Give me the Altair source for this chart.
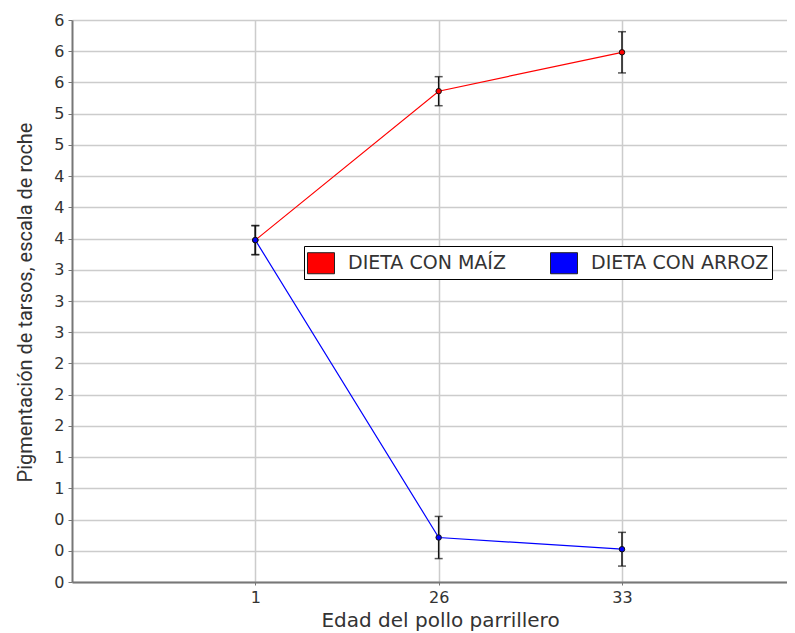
import altair as alt
import pandas as pd

# ---- data ----
days = ["1", "26", "33"]
series = ["DIETA CON MAÍZ", "DIETA CON ARROZ"]
colors = ["#ff0000", "#0000ff"]
maiz_mean = [3.65, 5.24, 5.655]
maiz_err = [0.155, 0.155, 0.22]
arroz_mean = [3.65, 0.475, 0.35]
arroz_err = [0.155, 0.225, 0.18]
y_tick_values = [k / 3 for k in range(19)]
y_tick_labels = ["0", "0", "0", "1", "1", "2", "2", "2", "3", "3", "3",
                 "4", "4", "4", "5", "5", "6", "6", "6"]

rows = []
for name, means, errs in [(series[0], maiz_mean, maiz_err), (series[1], arroz_mean, arroz_err)]:
    for i, (d, m, e) in enumerate(zip(days, means, errs)):
        rows.append({"pos": i, "dia": d, "serie": name, "leyenda": name,
                     "media": m, "lo": m - e, "hi": m + e})
df = pd.DataFrame(rows)

y_label_expr = "[" + ",".join("'%s'" % s for s in y_tick_labels) + "][round(datum.value*3)]"
x_label_expr = "[" + ",".join("'%s'" % s for s in days) + "][round(datum.value)]"

xscale = alt.Scale(domain=[-1.0, 2.9], nice=False, zero=False)
yscale = alt.Scale(domain=[0, 6], nice=False, zero=True)

xaxis = alt.Axis(values=list(range(len(days))), labelExpr=x_label_expr, labelAngle=0,
                 grid=True, gridColor="#cccccc", gridWidth=1.5,
                 domainColor="#777777", domainWidth=2, tickColor="#777777", tickSize=3,
                 labelFont="DejaVu Sans", labelFontSize=16, labelColor="#333333", labelPadding=4,
                 title="Edad del pollo parrillero", titleFont="DejaVu Sans", titleFontSize=20,
                 titleFontWeight="normal", titleColor="#333333", titleX=368, titleY=44,
                 titleAlign="center", titleBaseline="alphabetic")
yaxis = alt.Axis(values=y_tick_values, labelExpr=y_label_expr, grid=True, gridColor="#cccccc",
                 gridWidth=1.5, domainColor="#777777", domainWidth=2, tickColor="#777777",
                 tickSize=4, labelFont="DejaVu Sans", labelFontSize=16, labelColor="#333333",
                 labelPadding=4, title="Pigmentación de tarsos, escala de roche",
                 titleFont="Roboto", titleFontSize=20, titleFontWeight="normal",
                 titleColor="#333333", titleAngle=270, titleX=-47, titleY=282,
                 titleAlign="center", titleBaseline="middle")

base = alt.Chart(df).encode(x=alt.X("pos:Q", scale=xscale, axis=xaxis))

# line colours use a reversed (but equivalent) domain so its hidden legend is not merged
line = base.mark_line(strokeWidth=1.2).encode(
    y=alt.Y("media:Q", scale=yscale, axis=yaxis),
    stroke=alt.Stroke("serie:N", scale=alt.Scale(domain=series[::-1], range=colors[::-1]),
                      legend=None),
)
rules = base.mark_rule(color="#111111", strokeWidth=1.5).encode(
    y=alt.Y("lo:Q", scale=yscale, axis=yaxis), y2="hi:Q")
cap_lo = base.mark_tick(color="#111111", size=8, thickness=1.5, orient="horizontal").encode(
    y=alt.Y("lo:Q", scale=yscale, axis=yaxis))
cap_hi = base.mark_tick(color="#111111", size=8, thickness=1.5, orient="horizontal").encode(
    y=alt.Y("hi:Q", scale=yscale, axis=yaxis))
points = base.mark_circle(size=30, stroke="#111111", strokeWidth=1, opacity=1).encode(
    y=alt.Y("media:Q", scale=yscale, axis=yaxis),
    color=alt.Color("leyenda:N", scale=alt.Scale(domain=series, range=colors),
                    legend=alt.Legend(title=None, orient="none", legendX=232, legendY=226,
                                      direction="horizontal")),
)

chart = alt.layer(line, rules, cap_lo, cap_hi, points).properties(
    width=715, height=562,
    autosize=alt.AutoSizeParams(type="none"),
    padding={"left": 64, "top": 12, "right": 0, "bottom": 49},
    background="white",
).configure_view(stroke=None).configure_legend(
    symbolType="M-1,-0.78L1,-0.78L1,0.78L-1,0.78Z", symbolSize=729,
    symbolStrokeColor="#222222", symbolStrokeWidth=1, symbolOpacity=1,
    labelFont="DejaVu Sans", labelFontSize=19, labelColor="#333333", labelOffset=13,
    columnPadding=42, padding=3, strokeColor="black", fillColor="white",
    cornerRadius=0, labelLimit=400,
)

chart.save("out.html", embed_options={"renderer": "svg", "actions": False})
